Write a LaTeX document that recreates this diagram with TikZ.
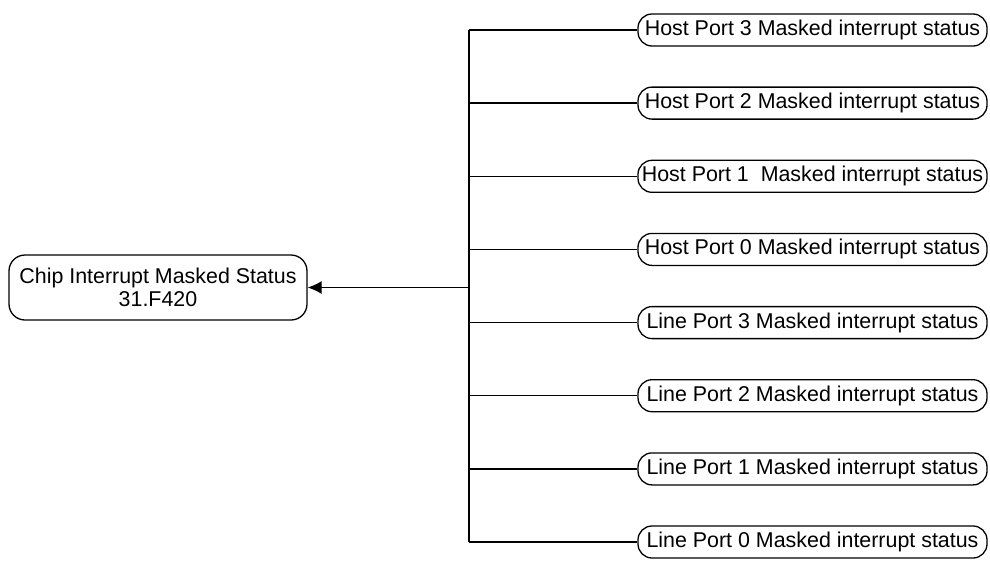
\documentclass[tikz,border=0pt]{standalone}
\usepackage{fontspec}
\setmainfont{Liberation Sans}
\usetikzlibrary{arrows.meta}
\tikzset{>={Latex[length=14pt,width=13pt]}}
\tikzset{
	status/.style={draw, line width=1.3pt, rounded corners=14pt, inner sep=0pt,
		minimum width=349pt, minimum height=32pt, font=\fontsize{21.4}{23}\selectfont},
	chipbox/.style={draw, line width=1.3pt, rounded corners=16pt, inner sep=0pt, align=center,
		minimum width=298pt, minimum height=65pt, font=\fontsize{21.4}{23.5}\selectfont},
	wire/.style={line width=1.3pt}
}

\begin{document}
\begin{tikzpicture}[x=1pt, y=-1pt]
		\useasboundingbox (0,0) rectangle (990,563);

		\node[chipbox] (chip) at (158, 287.5) {Chip Interrupt Masked Status\\31.F420};

		\node[status] (hp3) at (812.5, 30) {Host Port 3 Masked interrupt status};
		\node[status] (hp2) at (812.5, 103.1) {Host Port 2 Masked interrupt status};
		\node[status] (hp1) at (812.5, 176.3) {Host Port 1\ \ Masked interrupt status};
		\node[status] (hp0) at (812.5, 249.4) {Host Port 0 Masked interrupt status};
		\node[status] (lp3) at (812.5, 322.6) {Line Port 3 Masked interrupt status};
		\node[status] (lp2) at (812.5, 395.7) {Line Port 2 Masked interrupt status};
		\node[status] (lp1) at (812.5, 468.9) {Line Port 1 Masked interrupt status};
		\node[status] (lp0) at (812.5, 542) {Line Port 0 Masked interrupt status};

		% bus
		\coordinate (bus) at (469, 287.5);
		\draw[wire] (hp3.west -| bus) -- (lp0.west -| bus);

		\draw[wire] (hp3.west -| bus) -- (hp3.west);
		\draw[wire] (hp2.west -| bus) -- (hp2.west);
		\draw[wire] (hp1.west -| bus) -- (hp1.west);
		\draw[wire] (hp0.west -| bus) -- (hp0.west);
		\draw[wire] (lp3.west -| bus) -- (lp3.west);
		\draw[wire] (lp2.west -| bus) -- (lp2.west);
		\draw[wire] (lp1.west -| bus) -- (lp1.west);
		\draw[wire] (lp0.west -| bus) -- (lp0.west);

		\draw[wire, ->] (bus) -- (chip.east);
	\end{tikzpicture}
\end{document}
